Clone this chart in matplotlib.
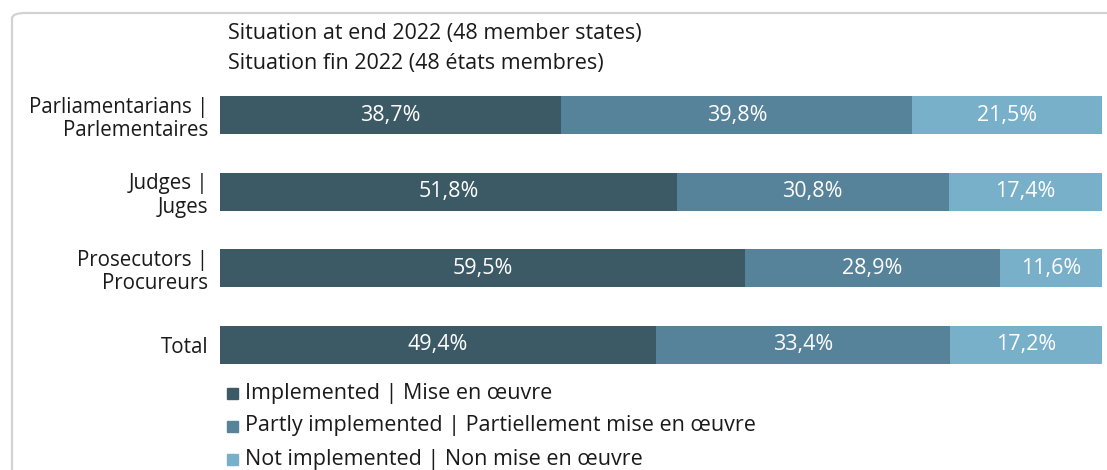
import numpy as np
from matplotlib import pyplot as plt
from matplotlib.patches import FancyBboxPatch

categories = ["Parliamentarians |\nParlementaires", "Judges |\nJuges",
              "Prosecutors |\nProcureurs", "Total"]
implemented = [38.7, 51.8, 59.5, 49.4]
partly = [39.8, 30.8, 28.9, 33.4]
not_impl = [21.5, 17.4, 11.6, 17.2]
series_names = ["Implemented | Mise en œuvre",
                "Partly implemented | Partiellement mise en œuvre",
                "Not implemented | Non mise en œuvre"]
titles = ["Situation at end 2022 (48 member states)",
          "Situation fin 2022 (48 états membres)"]

colors = ["#3c5966", "#568399", "#78afc9"]
plt.rcParams["font.family"] = ["Open Sans", "DejaVu Sans"]
W, H = 1107, 470

fig = plt.figure(figsize=(W / 100, H / 100), dpi=100)

# rounded frame running off the right and bottom edge
frame = FancyBboxPatch((12 / W, 1 - 480 / H), 1120 / W, 467 / H,
                       boxstyle="round,pad=0,rounding_size=0.012",
                       transform=fig.transFigure, facecolor="none",
                       edgecolor="#d2d2d2", linewidth=1.6)
fig.patches.append(frame)

ax = fig.add_axes([220 / W, 1 - 383 / H, 882 / W, 306 / H])
y = np.arange(len(categories))
left = np.zeros(len(categories))
for vals, c in zip([implemented, partly, not_impl], colors):
    vals = np.array(vals)
    ax.barh(y, vals, left=left, height=0.5, color=c, edgecolor="none")
    for yi, l, v in zip(y, left, vals):
        ax.text(l + v / 2, yi, f"{v:.1f}%".replace(".", ","), ha="center",
                va="center", color="white", fontsize=15.5)
    left += vals

ax.set_xlim(0, 100)
ax.set_ylim(3.5, -0.5)
ax.set_xticks([])
ax.set_yticks(y)
ax.set_yticklabels(categories, fontsize=14.8, color="#1a1a1a", linespacing=1.15)
ax.tick_params(axis="y", length=0, pad=8.6)
for s in ax.spines.values():
    s.set_visible(False)

for i, t in enumerate(titles):
    fig.text(228 / W, 1 - (33 + 30 * i) / H, t, fontsize=15.5, color="#1a1a1a",
             va="center", ha="left")

for i, (name, c) in enumerate(zip(series_names, colors)):
    yc = 1 - (393 + 33 * i) / H
    fig.patches.append(plt.Rectangle((227 / W, yc - 6 / H), 11 / W, 11 / H,
                                     transform=fig.transFigure, color=c))
    fig.text(245 / W, yc, name, fontsize=15.5, color="#1a1a1a", va="center",
             ha="left")

fig.savefig("out.png", dpi=100)
